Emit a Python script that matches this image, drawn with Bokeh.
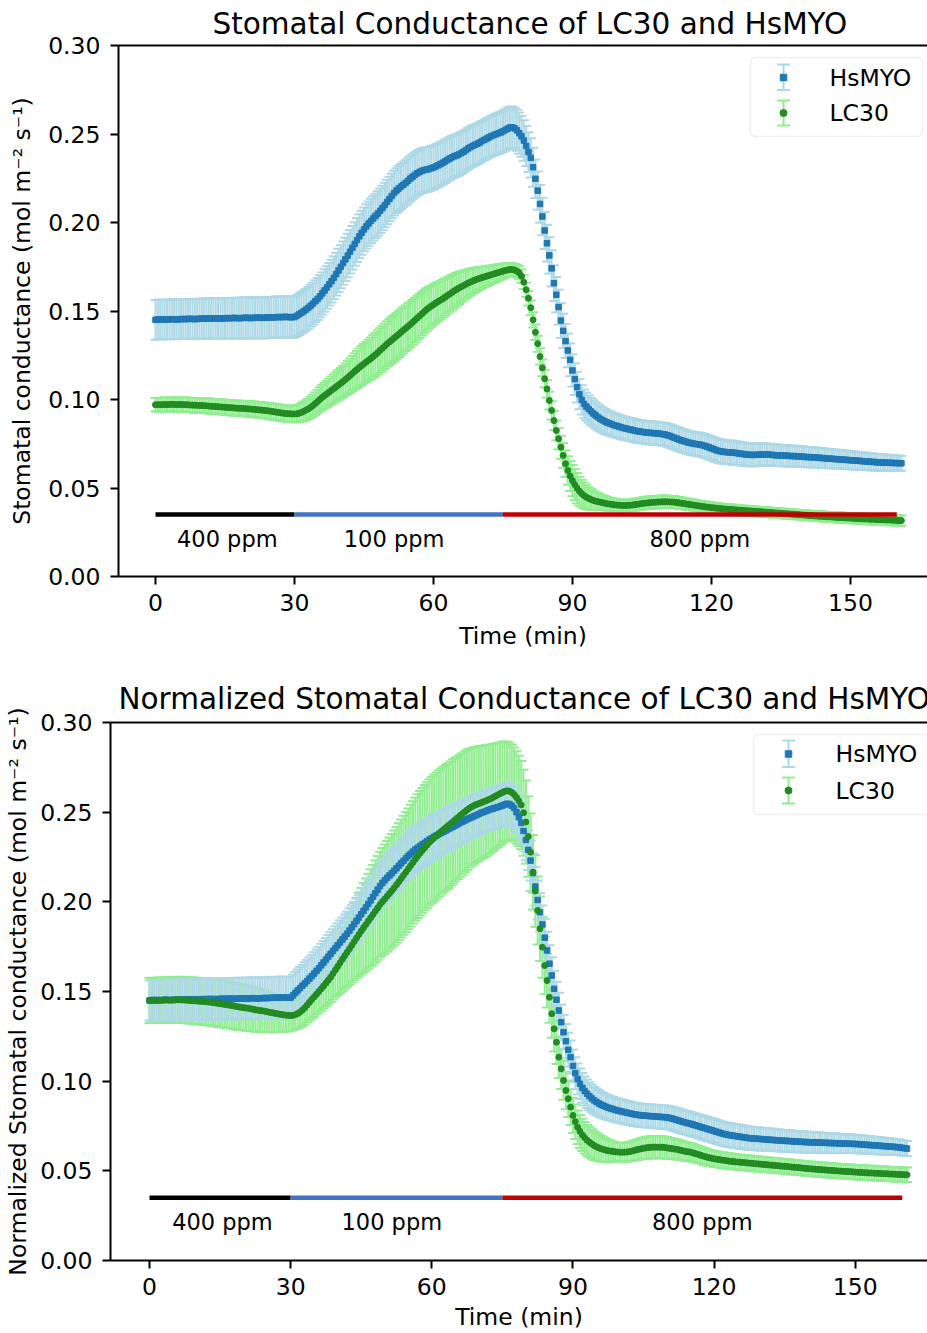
from bokeh.plotting import figure
from bokeh.layouts import column
from bokeh.models import (Range1d, FixedTicker, NumeralTickFormatter, LinearAxis,
                          Label, BoxAnnotation, ColumnDataSource)
from bokeh.core.properties import value
from bokeh.embed import file_html
from bokeh.resources import INLINE

FONT = "DejaVu Sans"

# ---------------- data (sampled every 0.5 min, 0 .. 161 min) ----------------
SAMPLE_STEP_MIN = 0.5

# HsMYO stomatal conductance (mol m-2 s-1), upper panel
hsmyo_gs = [
    0.1450, 0.1452, 0.1453, 0.1452, 0.1451, 0.1452, 0.1453, 0.1454, 0.1453, 0.1452,
    0.1453, 0.1454, 0.1455, 0.1454, 0.1455, 0.1456, 0.1455, 0.1454, 0.1455, 0.1456,
    0.1457, 0.1456, 0.1457, 0.1458, 0.1457, 0.1458, 0.1459, 0.1458, 0.1457, 0.1458,
    0.1459, 0.1460, 0.1459, 0.1460, 0.1461, 0.1460, 0.1459, 0.1460, 0.1461, 0.1462,
    0.1461, 0.1460, 0.1461, 0.1462, 0.1463, 0.1462, 0.1461, 0.1462, 0.1463, 0.1464,
    0.1463, 0.1464, 0.1465, 0.1466, 0.1465, 0.1466, 0.1467, 0.1466, 0.1465, 0.1465,
    0.1466, 0.1473, 0.1481, 0.1490, 0.1499, 0.1508, 0.1518, 0.1530, 0.1542, 0.1555,
    0.1568, 0.1583, 0.1599, 0.1616, 0.1633, 0.1651, 0.1669, 0.1688, 0.1708, 0.1729,
    0.1750, 0.1771, 0.1792, 0.1813, 0.1835, 0.1857, 0.1879, 0.1901, 0.1922, 0.1942,
    0.1961, 0.1978, 0.1994, 0.2009, 0.2023, 0.2037, 0.2051, 0.2066, 0.2082, 0.2099,
    0.2116, 0.2133, 0.2150, 0.2166, 0.2180, 0.2192, 0.2203, 0.2213, 0.2224, 0.2236,
    0.2248, 0.2259, 0.2269, 0.2278, 0.2286, 0.2292, 0.2296, 0.2299, 0.2302, 0.2306,
    0.2311, 0.2317, 0.2323, 0.2330, 0.2337, 0.2345, 0.2353, 0.2361, 0.2368, 0.2374,
    0.2379, 0.2385, 0.2392, 0.2400, 0.2409, 0.2418, 0.2426, 0.2433, 0.2439, 0.2445,
    0.2452, 0.2460, 0.2467, 0.2474, 0.2481, 0.2488, 0.2494, 0.2499, 0.2504, 0.2509,
    0.2515, 0.2522, 0.2530, 0.2537, 0.2538, 0.2532, 0.2521, 0.2505, 0.2487, 0.2463,
    0.2432, 0.2398, 0.2365, 0.2312, 0.2247, 0.2180, 0.2105, 0.2034, 0.1955, 0.1883,
    0.1814, 0.1741, 0.1657, 0.1592, 0.1522, 0.1446, 0.1388, 0.1330, 0.1277, 0.1224,
    0.1164, 0.1115, 0.1070, 0.1030, 0.0998, 0.0975, 0.0960, 0.0946, 0.0933, 0.0921,
    0.0910, 0.0900, 0.0891, 0.0883, 0.0876, 0.0870, 0.0865, 0.0860, 0.0855, 0.0851,
    0.0847, 0.0843, 0.0839, 0.0836, 0.0833, 0.0830, 0.0827, 0.0824, 0.0821, 0.0819,
    0.0817, 0.0815, 0.0813, 0.0812, 0.0811, 0.0810, 0.0809, 0.0808, 0.0806, 0.0804,
    0.0802, 0.0798, 0.0794, 0.0789, 0.0784, 0.0779, 0.0774, 0.0769, 0.0765, 0.0761,
    0.0757, 0.0754, 0.0751, 0.0749, 0.0747, 0.0745, 0.0742, 0.0738, 0.0734, 0.0729,
    0.0724, 0.0719, 0.0714, 0.0710, 0.0707, 0.0705, 0.0703, 0.0702, 0.0701, 0.0700,
    0.0699, 0.0697, 0.0695, 0.0693, 0.0691, 0.0689, 0.0688, 0.0687, 0.0687, 0.0687,
    0.0688, 0.0688, 0.0689, 0.0689, 0.0689, 0.0688, 0.0687, 0.0686, 0.0685, 0.0684,
    0.0684, 0.0683, 0.0683, 0.0682, 0.0681, 0.0680, 0.0680, 0.0679, 0.0678, 0.0677,
    0.0676, 0.0675, 0.0674, 0.0674, 0.0673, 0.0672, 0.0671, 0.0670, 0.0669, 0.0668,
    0.0667, 0.0666, 0.0665, 0.0664, 0.0663, 0.0662, 0.0661, 0.0660, 0.0659, 0.0658,
    0.0657, 0.0656, 0.0655, 0.0654, 0.0653, 0.0652, 0.0651, 0.0650, 0.0649, 0.0648,
    0.0647, 0.0646, 0.0645, 0.0645, 0.0644, 0.0643, 0.0643, 0.0642, 0.0642, 0.0641,
    0.0641, 0.0640, 0.0640,
]

# HsMYO standard error (used in both panels)
hsmyo_err = [
    0.0112, 0.0112, 0.0111, 0.0111, 0.0111, 0.0112, 0.0112, 0.0112, 0.0111, 0.0111,
    0.0111, 0.0112, 0.0112, 0.0112, 0.0112, 0.0112, 0.0113, 0.0113, 0.0113, 0.0113,
    0.0113, 0.0113, 0.0113, 0.0113, 0.0114, 0.0114, 0.0114, 0.0114, 0.0114, 0.0114,
    0.0114, 0.0114, 0.0114, 0.0114, 0.0114, 0.0115, 0.0115, 0.0115, 0.0115, 0.0115,
    0.0115, 0.0115, 0.0115, 0.0116, 0.0116, 0.0116, 0.0116, 0.0116, 0.0116, 0.0116,
    0.0116, 0.0116, 0.0116, 0.0116, 0.0116, 0.0116, 0.0116, 0.0116, 0.0116, 0.0116,
    0.0116, 0.0116, 0.0117, 0.0117, 0.0117, 0.0117, 0.0118, 0.0118, 0.0118, 0.0118,
    0.0119, 0.0119, 0.0119, 0.0120, 0.0120, 0.0120, 0.0121, 0.0121, 0.0121, 0.0122,
    0.0122, 0.0122, 0.0122, 0.0123, 0.0123, 0.0123, 0.0123, 0.0124, 0.0124, 0.0124,
    0.0124, 0.0125, 0.0125, 0.0125, 0.0125, 0.0125, 0.0126, 0.0126, 0.0126, 0.0126,
    0.0126, 0.0126, 0.0126, 0.0127, 0.0127, 0.0127, 0.0127, 0.0127, 0.0127, 0.0127,
    0.0127, 0.0127, 0.0127, 0.0126, 0.0126, 0.0126, 0.0126, 0.0125, 0.0125, 0.0125,
    0.0124, 0.0124, 0.0123, 0.0123, 0.0122, 0.0122, 0.0121, 0.0121, 0.0120, 0.0120,
    0.0119, 0.0119, 0.0118, 0.0118, 0.0117, 0.0117, 0.0116, 0.0116, 0.0115, 0.0115,
    0.0114, 0.0114, 0.0114, 0.0114, 0.0114, 0.0115, 0.0115, 0.0115, 0.0116, 0.0116,
    0.0116, 0.0117, 0.0117, 0.0117, 0.0117, 0.0117, 0.0116, 0.0116, 0.0115, 0.0114,
    0.0113, 0.0112, 0.0111, 0.0110, 0.0109, 0.0108, 0.0107, 0.0106, 0.0105, 0.0104,
    0.0103, 0.0102, 0.0101, 0.0100, 0.0099, 0.0098, 0.0097, 0.0096, 0.0095, 0.0093,
    0.0091, 0.0089, 0.0087, 0.0085, 0.0083, 0.0081, 0.0079, 0.0077, 0.0076, 0.0075,
    0.0074, 0.0073, 0.0072, 0.0071, 0.0070, 0.0069, 0.0068, 0.0068, 0.0067, 0.0067,
    0.0066, 0.0066, 0.0066, 0.0065, 0.0065, 0.0065, 0.0065, 0.0065, 0.0065, 0.0065,
    0.0065, 0.0065, 0.0065, 0.0065, 0.0065, 0.0065, 0.0065, 0.0065, 0.0065, 0.0065,
    0.0065, 0.0065, 0.0066, 0.0066, 0.0066, 0.0066, 0.0066, 0.0066, 0.0066, 0.0066,
    0.0066, 0.0066, 0.0066, 0.0066, 0.0067, 0.0067, 0.0067, 0.0067, 0.0067, 0.0067,
    0.0067, 0.0067, 0.0067, 0.0067, 0.0067, 0.0067, 0.0067, 0.0067, 0.0067, 0.0067,
    0.0067, 0.0066, 0.0066, 0.0066, 0.0065, 0.0065, 0.0065, 0.0064, 0.0064, 0.0064,
    0.0063, 0.0063, 0.0063, 0.0062, 0.0062, 0.0062, 0.0061, 0.0061, 0.0061, 0.0060,
    0.0060, 0.0060, 0.0060, 0.0059, 0.0059, 0.0059, 0.0059, 0.0058, 0.0058, 0.0058,
    0.0058, 0.0057, 0.0057, 0.0057, 0.0056, 0.0056, 0.0056, 0.0055, 0.0055, 0.0055,
    0.0054, 0.0054, 0.0054, 0.0053, 0.0053, 0.0053, 0.0052, 0.0052, 0.0052, 0.0051,
    0.0051, 0.0051, 0.0050, 0.0050, 0.0050, 0.0049, 0.0049, 0.0049, 0.0048, 0.0048,
    0.0048, 0.0047, 0.0047, 0.0046, 0.0046, 0.0045, 0.0045, 0.0044, 0.0044, 0.0043,
    0.0043, 0.0042, 0.0042,
]

# LC30 stomatal conductance, upper panel
lc30_gs = [
    0.0970, 0.0971, 0.0970, 0.0971, 0.0972, 0.0971, 0.0972, 0.0973, 0.0972, 0.0971,
    0.0972, 0.0972, 0.0971, 0.0970, 0.0970, 0.0969, 0.0968, 0.0968, 0.0967, 0.0966,
    0.0966, 0.0965, 0.0964, 0.0963, 0.0962, 0.0961, 0.0960, 0.0959, 0.0958, 0.0957,
    0.0956, 0.0955, 0.0954, 0.0953, 0.0952, 0.0951, 0.0950, 0.0950, 0.0949, 0.0948,
    0.0947, 0.0946, 0.0945, 0.0944, 0.0942, 0.0941, 0.0940, 0.0938, 0.0937, 0.0935,
    0.0933, 0.0931, 0.0929, 0.0927, 0.0925, 0.0923, 0.0921, 0.0920, 0.0919, 0.0918,
    0.0918, 0.0919, 0.0922, 0.0927, 0.0933, 0.0940, 0.0947, 0.0956, 0.0966, 0.0977,
    0.0989, 0.1001, 0.1012, 0.1022, 0.1032, 0.1042, 0.1052, 0.1062, 0.1072, 0.1082,
    0.1092, 0.1102, 0.1113, 0.1124, 0.1135, 0.1147, 0.1159, 0.1170, 0.1181, 0.1192,
    0.1202, 0.1212, 0.1222, 0.1232, 0.1243, 0.1254, 0.1266, 0.1278, 0.1290, 0.1302,
    0.1314, 0.1325, 0.1336, 0.1347, 0.1358, 0.1369, 0.1380, 0.1391, 0.1402, 0.1413,
    0.1424, 0.1436, 0.1448, 0.1460, 0.1472, 0.1484, 0.1496, 0.1508, 0.1518, 0.1527,
    0.1536, 0.1545, 0.1553, 0.1561, 0.1569, 0.1578, 0.1587, 0.1596, 0.1605, 0.1614,
    0.1622, 0.1630, 0.1637, 0.1644, 0.1651, 0.1658, 0.1664, 0.1670, 0.1675, 0.1680,
    0.1685, 0.1689, 0.1693, 0.1697, 0.1701, 0.1705, 0.1709, 0.1713, 0.1717, 0.1721,
    0.1725, 0.1729, 0.1732, 0.1734, 0.1734, 0.1731, 0.1725, 0.1716, 0.1697, 0.1663,
    0.1620, 0.1572, 0.1518, 0.1450, 0.1380, 0.1315, 0.1243, 0.1179, 0.1117, 0.1060,
    0.0994, 0.0938, 0.0881, 0.0825, 0.0778, 0.0730, 0.0684, 0.0637, 0.0599, 0.0568,
    0.0542, 0.0519, 0.0499, 0.0482, 0.0468, 0.0457, 0.0448, 0.0441, 0.0435, 0.0430,
    0.0426, 0.0423, 0.0420, 0.0417, 0.0414, 0.0411, 0.0409, 0.0407, 0.0405, 0.0404,
    0.0403, 0.0402, 0.0401, 0.0401, 0.0402, 0.0403, 0.0404, 0.0406, 0.0408, 0.0410,
    0.0412, 0.0414, 0.0415, 0.0417, 0.0418, 0.0419, 0.0420, 0.0421, 0.0421, 0.0422,
    0.0422, 0.0422, 0.0421, 0.0421, 0.0420, 0.0418, 0.0416, 0.0414, 0.0412, 0.0410,
    0.0408, 0.0406, 0.0404, 0.0402, 0.0400, 0.0398, 0.0396, 0.0394, 0.0392, 0.0391,
    0.0389, 0.0388, 0.0386, 0.0385, 0.0384, 0.0382, 0.0381, 0.0380, 0.0379, 0.0378,
    0.0377, 0.0376, 0.0375, 0.0374, 0.0373, 0.0372, 0.0371, 0.0370, 0.0369, 0.0368,
    0.0367, 0.0366, 0.0365, 0.0364, 0.0363, 0.0362, 0.0361, 0.0360, 0.0359, 0.0358,
    0.0357, 0.0356, 0.0355, 0.0354, 0.0353, 0.0352, 0.0351, 0.0350, 0.0349, 0.0348,
    0.0347, 0.0346, 0.0345, 0.0344, 0.0343, 0.0342, 0.0341, 0.0340, 0.0339, 0.0338,
    0.0337, 0.0337, 0.0336, 0.0335, 0.0334, 0.0333, 0.0333, 0.0332, 0.0331, 0.0330,
    0.0330, 0.0329, 0.0328, 0.0327, 0.0327, 0.0326, 0.0325, 0.0325, 0.0324, 0.0323,
    0.0323, 0.0322, 0.0321, 0.0321, 0.0320, 0.0320, 0.0319, 0.0319, 0.0318, 0.0318,
    0.0317, 0.0316, 0.0316,
]

lc30_err = [
    0.0038, 0.0038, 0.0039, 0.0039, 0.0039, 0.0039, 0.0039, 0.0039, 0.0040, 0.0040,
    0.0040, 0.0040, 0.0040, 0.0040, 0.0040, 0.0041, 0.0041, 0.0041, 0.0041, 0.0041,
    0.0041, 0.0041, 0.0041, 0.0042, 0.0042, 0.0042, 0.0042, 0.0042, 0.0042, 0.0042,
    0.0042, 0.0042, 0.0043, 0.0043, 0.0043, 0.0043, 0.0043, 0.0043, 0.0043, 0.0043,
    0.0043, 0.0044, 0.0044, 0.0044, 0.0044, 0.0044, 0.0044, 0.0044, 0.0044, 0.0045,
    0.0045, 0.0045, 0.0045, 0.0045, 0.0045, 0.0045, 0.0045, 0.0045, 0.0046, 0.0046,
    0.0046, 0.0048, 0.0050, 0.0052, 0.0054, 0.0056, 0.0058, 0.0060, 0.0062, 0.0064,
    0.0066, 0.0068, 0.0070, 0.0072, 0.0074, 0.0076, 0.0078, 0.0080, 0.0082, 0.0084,
    0.0086, 0.0088, 0.0090, 0.0093, 0.0096, 0.0099, 0.0102, 0.0105, 0.0108, 0.0110,
    0.0112, 0.0114, 0.0116, 0.0118, 0.0120, 0.0122, 0.0124, 0.0125, 0.0126, 0.0127,
    0.0128, 0.0129, 0.0130, 0.0130, 0.0130, 0.0130, 0.0130, 0.0130, 0.0129, 0.0129,
    0.0128, 0.0127, 0.0126, 0.0125, 0.0124, 0.0123, 0.0122, 0.0120, 0.0118, 0.0116,
    0.0114, 0.0112, 0.0110, 0.0108, 0.0106, 0.0104, 0.0102, 0.0100, 0.0098, 0.0096,
    0.0093, 0.0090, 0.0087, 0.0084, 0.0081, 0.0078, 0.0075, 0.0072, 0.0069, 0.0066,
    0.0063, 0.0060, 0.0058, 0.0056, 0.0054, 0.0052, 0.0050, 0.0048, 0.0046, 0.0044,
    0.0042, 0.0040, 0.0038, 0.0036, 0.0035, 0.0035, 0.0036, 0.0037, 0.0038, 0.0039,
    0.0040, 0.0041, 0.0042, 0.0043, 0.0044, 0.0045, 0.0046, 0.0047, 0.0048, 0.0049,
    0.0050, 0.0052, 0.0054, 0.0056, 0.0060, 0.0065, 0.0070, 0.0075, 0.0080, 0.0085,
    0.0088, 0.0088, 0.0086, 0.0082, 0.0078, 0.0073, 0.0068, 0.0063, 0.0058, 0.0054,
    0.0050, 0.0047, 0.0044, 0.0042, 0.0040, 0.0038, 0.0036, 0.0035, 0.0034, 0.0033,
    0.0032, 0.0032, 0.0032, 0.0032, 0.0032, 0.0032, 0.0033, 0.0033, 0.0033, 0.0034,
    0.0034, 0.0034, 0.0035, 0.0035, 0.0035, 0.0035, 0.0035, 0.0035, 0.0035, 0.0035,
    0.0035, 0.0035, 0.0034, 0.0034, 0.0034, 0.0033, 0.0033, 0.0033, 0.0032, 0.0032,
    0.0032, 0.0031, 0.0031, 0.0031, 0.0030, 0.0030, 0.0030, 0.0030, 0.0029, 0.0029,
    0.0029, 0.0029, 0.0029, 0.0029, 0.0028, 0.0028, 0.0028, 0.0028, 0.0028, 0.0028,
    0.0028, 0.0028, 0.0028, 0.0027, 0.0027, 0.0027, 0.0027, 0.0027, 0.0027, 0.0027,
    0.0027, 0.0027, 0.0027, 0.0027, 0.0027, 0.0027, 0.0027, 0.0027, 0.0027, 0.0027,
    0.0027, 0.0027, 0.0027, 0.0027, 0.0027, 0.0027, 0.0027, 0.0027, 0.0027, 0.0027,
    0.0027, 0.0027, 0.0027, 0.0027, 0.0027, 0.0027, 0.0027, 0.0027, 0.0028, 0.0028,
    0.0028, 0.0028, 0.0028, 0.0028, 0.0028, 0.0028, 0.0028, 0.0028, 0.0028, 0.0028,
    0.0028, 0.0028, 0.0028, 0.0028, 0.0028, 0.0029, 0.0029, 0.0029, 0.0029, 0.0029,
    0.0029, 0.0029, 0.0029, 0.0029, 0.0029, 0.0029, 0.0029, 0.0029, 0.0029, 0.0029,
    0.0029, 0.0029, 0.0029,
]

# Normalized panel: HsMYO
hsmyo_norm = [
    0.1450, 0.1452, 0.1453, 0.1452, 0.1451, 0.1452, 0.1453, 0.1454, 0.1453, 0.1452,
    0.1453, 0.1454, 0.1455, 0.1454, 0.1455, 0.1456, 0.1455, 0.1454, 0.1455, 0.1456,
    0.1457, 0.1456, 0.1457, 0.1458, 0.1457, 0.1458, 0.1459, 0.1458, 0.1457, 0.1458,
    0.1459, 0.1460, 0.1459, 0.1460, 0.1461, 0.1460, 0.1459, 0.1460, 0.1461, 0.1462,
    0.1461, 0.1460, 0.1461, 0.1462, 0.1463, 0.1462, 0.1461, 0.1462, 0.1463, 0.1464,
    0.1463, 0.1464, 0.1465, 0.1466, 0.1465, 0.1466, 0.1467, 0.1466, 0.1465, 0.1465,
    0.1466, 0.1478, 0.1492, 0.1506, 0.1519, 0.1532, 0.1545, 0.1558, 0.1572, 0.1586,
    0.1600, 0.1615, 0.1630, 0.1646, 0.1662, 0.1678, 0.1694, 0.1710, 0.1726, 0.1742,
    0.1758, 0.1774, 0.1790, 0.1806, 0.1822, 0.1840, 0.1858, 0.1876, 0.1894, 0.1912,
    0.1931, 0.1950, 0.1969, 0.1988, 0.2008, 0.2028, 0.2048, 0.2068, 0.2088, 0.2105,
    0.2120, 0.2134, 0.2147, 0.2160, 0.2173, 0.2187, 0.2201, 0.2215, 0.2229, 0.2243,
    0.2256, 0.2268, 0.2280, 0.2291, 0.2301, 0.2311, 0.2320, 0.2329, 0.2338, 0.2347,
    0.2355, 0.2363, 0.2370, 0.2377, 0.2384, 0.2391, 0.2398, 0.2405, 0.2412, 0.2419,
    0.2426, 0.2433, 0.2440, 0.2447, 0.2454, 0.2460, 0.2466, 0.2472, 0.2478, 0.2484,
    0.2490, 0.2496, 0.2501, 0.2506, 0.2511, 0.2516, 0.2520, 0.2524, 0.2528, 0.2532,
    0.2537, 0.2542, 0.2547, 0.2545, 0.2536, 0.2523, 0.2500, 0.2472, 0.2440, 0.2395,
    0.2345, 0.2290, 0.2230, 0.2160, 0.2085, 0.2010, 0.1942, 0.1874, 0.1800, 0.1729,
    0.1655, 0.1589, 0.1515, 0.1454, 0.1394, 0.1329, 0.1273, 0.1223, 0.1175, 0.1134,
    0.1085, 0.1045, 0.1012, 0.0985, 0.0963, 0.0945, 0.0930, 0.0916, 0.0904, 0.0893,
    0.0884, 0.0876, 0.0869, 0.0863, 0.0857, 0.0852, 0.0848, 0.0844, 0.0840, 0.0836,
    0.0833, 0.0830, 0.0827, 0.0824, 0.0821, 0.0818, 0.0815, 0.0813, 0.0811, 0.0809,
    0.0808, 0.0807, 0.0806, 0.0805, 0.0804, 0.0803, 0.0802, 0.0801, 0.0800, 0.0799,
    0.0798, 0.0795, 0.0792, 0.0788, 0.0784, 0.0780, 0.0776, 0.0772, 0.0768, 0.0765,
    0.0762, 0.0758, 0.0754, 0.0750, 0.0746, 0.0742, 0.0738, 0.0734, 0.0730, 0.0726,
    0.0722, 0.0718, 0.0714, 0.0710, 0.0706, 0.0703, 0.0700, 0.0698, 0.0696, 0.0694,
    0.0692, 0.0690, 0.0688, 0.0686, 0.0684, 0.0682, 0.0681, 0.0680, 0.0679, 0.0678,
    0.0677, 0.0676, 0.0675, 0.0674, 0.0673, 0.0672, 0.0671, 0.0670, 0.0669, 0.0668,
    0.0667, 0.0667, 0.0666, 0.0665, 0.0664, 0.0663, 0.0662, 0.0662, 0.0661, 0.0660,
    0.0660, 0.0659, 0.0659, 0.0658, 0.0658, 0.0657, 0.0657, 0.0656, 0.0656, 0.0655,
    0.0655, 0.0654, 0.0654, 0.0653, 0.0653, 0.0652, 0.0652, 0.0651, 0.0651, 0.0650,
    0.0650, 0.0649, 0.0648, 0.0647, 0.0646, 0.0645, 0.0644, 0.0643, 0.0642, 0.0641,
    0.0640, 0.0639, 0.0638, 0.0637, 0.0636, 0.0635, 0.0634, 0.0633, 0.0632, 0.0630,
    0.0628, 0.0626, 0.0624,
]

# Normalized panel: LC30
lc30_norm = [
    0.1450, 0.1451, 0.1450, 0.1451, 0.1452, 0.1451, 0.1452, 0.1453, 0.1452, 0.1452,
    0.1453, 0.1453, 0.1454, 0.1454, 0.1453, 0.1452, 0.1451, 0.1450, 0.1449, 0.1448,
    0.1447, 0.1446, 0.1445, 0.1444, 0.1443, 0.1441, 0.1440, 0.1438, 0.1436, 0.1434,
    0.1432, 0.1430, 0.1428, 0.1426, 0.1424, 0.1422, 0.1419, 0.1416, 0.1414, 0.1412,
    0.1410, 0.1408, 0.1406, 0.1404, 0.1401, 0.1398, 0.1396, 0.1394, 0.1392, 0.1390,
    0.1387, 0.1384, 0.1382, 0.1379, 0.1377, 0.1374, 0.1372, 0.1370, 0.1368, 0.1367,
    0.1366, 0.1367, 0.1371, 0.1377, 0.1385, 0.1396, 0.1409, 0.1424, 0.1440, 0.1456,
    0.1470, 0.1485, 0.1500, 0.1515, 0.1531, 0.1547, 0.1563, 0.1580, 0.1600, 0.1620,
    0.1640, 0.1660, 0.1680, 0.1700, 0.1719, 0.1738, 0.1758, 0.1778, 0.1798, 0.1818,
    0.1837, 0.1856, 0.1874, 0.1893, 0.1911, 0.1929, 0.1948, 0.1966, 0.1985, 0.2001,
    0.2016, 0.2031, 0.2046, 0.2062, 0.2078, 0.2095, 0.2112, 0.2130, 0.2148, 0.2166,
    0.2184, 0.2202, 0.2220, 0.2238, 0.2255, 0.2271, 0.2287, 0.2302, 0.2317, 0.2332,
    0.2345, 0.2357, 0.2369, 0.2381, 0.2392, 0.2403, 0.2414, 0.2425, 0.2436, 0.2447,
    0.2458, 0.2469, 0.2480, 0.2491, 0.2502, 0.2512, 0.2522, 0.2530, 0.2537, 0.2543,
    0.2548, 0.2553, 0.2558, 0.2563, 0.2569, 0.2575, 0.2582, 0.2589, 0.2596, 0.2603,
    0.2610, 0.2616, 0.2619, 0.2617, 0.2610, 0.2598, 0.2582, 0.2563, 0.2540, 0.2497,
    0.2445, 0.2364, 0.2277, 0.2165, 0.2060, 0.1952, 0.1850, 0.1747, 0.1645, 0.1561,
    0.1468, 0.1376, 0.1292, 0.1217, 0.1134, 0.1069, 0.1004, 0.0948, 0.0902, 0.0855,
    0.0809, 0.0774, 0.0743, 0.0720, 0.0700, 0.0684, 0.0671, 0.0660, 0.0650, 0.0641,
    0.0634, 0.0628, 0.0623, 0.0619, 0.0615, 0.0612, 0.0610, 0.0608, 0.0606, 0.0605,
    0.0604, 0.0604, 0.0604, 0.0605, 0.0607, 0.0610, 0.0613, 0.0617, 0.0620, 0.0623,
    0.0626, 0.0628, 0.0630, 0.0631, 0.0632, 0.0632, 0.0632, 0.0632, 0.0631, 0.0630,
    0.0628, 0.0626, 0.0624, 0.0622, 0.0620, 0.0617, 0.0614, 0.0611, 0.0608, 0.0606,
    0.0604, 0.0600, 0.0596, 0.0592, 0.0588, 0.0584, 0.0580, 0.0576, 0.0573, 0.0570,
    0.0567, 0.0565, 0.0563, 0.0561, 0.0559, 0.0557, 0.0555, 0.0553, 0.0552, 0.0550,
    0.0549, 0.0548, 0.0547, 0.0546, 0.0544, 0.0543, 0.0542, 0.0540, 0.0539, 0.0538,
    0.0537, 0.0536, 0.0535, 0.0533, 0.0532, 0.0531, 0.0530, 0.0529, 0.0527, 0.0526,
    0.0525, 0.0524, 0.0523, 0.0521, 0.0520, 0.0519, 0.0518, 0.0516, 0.0515, 0.0513,
    0.0512, 0.0511, 0.0510, 0.0509, 0.0508, 0.0507, 0.0506, 0.0505, 0.0504, 0.0503,
    0.0502, 0.0501, 0.0500, 0.0499, 0.0498, 0.0497, 0.0496, 0.0496, 0.0495, 0.0494,
    0.0493, 0.0492, 0.0491, 0.0491, 0.0490, 0.0489, 0.0488, 0.0488, 0.0487, 0.0486,
    0.0486, 0.0485, 0.0484, 0.0484, 0.0483, 0.0482, 0.0482, 0.0481, 0.0480, 0.0480,
    0.0479, 0.0478, 0.0478,
]

lc30_norm_err = [
    0.0125, 0.0125, 0.0125, 0.0126, 0.0126, 0.0126, 0.0126, 0.0126, 0.0127, 0.0127,
    0.0127, 0.0127, 0.0127, 0.0128, 0.0128, 0.0128, 0.0128, 0.0128, 0.0129, 0.0129,
    0.0129, 0.0129, 0.0129, 0.0129, 0.0130, 0.0130, 0.0130, 0.0130, 0.0130, 0.0130,
    0.0130, 0.0130, 0.0130, 0.0130, 0.0129, 0.0129, 0.0129, 0.0128, 0.0128, 0.0127,
    0.0127, 0.0126, 0.0125, 0.0124, 0.0123, 0.0122, 0.0120, 0.0119, 0.0117, 0.0115,
    0.0113, 0.0111, 0.0109, 0.0106, 0.0103, 0.0100, 0.0097, 0.0094, 0.0091, 0.0088,
    0.0085, 0.0082, 0.0080, 0.0082, 0.0085, 0.0088, 0.0092, 0.0096, 0.0100, 0.0104,
    0.0108, 0.0112, 0.0116, 0.0120, 0.0124, 0.0128, 0.0132, 0.0138, 0.0145, 0.0152,
    0.0160, 0.0168, 0.0176, 0.0184, 0.0192, 0.0200, 0.0208, 0.0216, 0.0224, 0.0232,
    0.0240, 0.0248, 0.0256, 0.0263, 0.0270, 0.0277, 0.0283, 0.0289, 0.0294, 0.0299,
    0.0304, 0.0308, 0.0312, 0.0316, 0.0320, 0.0323, 0.0326, 0.0329, 0.0332, 0.0335,
    0.0337, 0.0339, 0.0341, 0.0343, 0.0345, 0.0347, 0.0348, 0.0349, 0.0350, 0.0351,
    0.0352, 0.0352, 0.0352, 0.0352, 0.0351, 0.0350, 0.0349, 0.0348, 0.0347, 0.0346,
    0.0344, 0.0342, 0.0340, 0.0338, 0.0336, 0.0334, 0.0331, 0.0328, 0.0325, 0.0322,
    0.0319, 0.0316, 0.0313, 0.0310, 0.0306, 0.0302, 0.0298, 0.0294, 0.0290, 0.0286,
    0.0282, 0.0278, 0.0274, 0.0270, 0.0266, 0.0262, 0.0258, 0.0252, 0.0246, 0.0240,
    0.0232, 0.0224, 0.0216, 0.0208, 0.0200, 0.0190, 0.0180, 0.0170, 0.0160, 0.0150,
    0.0142, 0.0134, 0.0127, 0.0121, 0.0116, 0.0112, 0.0108, 0.0105, 0.0102, 0.0100,
    0.0098, 0.0096, 0.0094, 0.0092, 0.0090, 0.0088, 0.0086, 0.0084, 0.0082, 0.0080,
    0.0077, 0.0074, 0.0071, 0.0068, 0.0065, 0.0062, 0.0059, 0.0056, 0.0054, 0.0052,
    0.0051, 0.0051, 0.0052, 0.0053, 0.0054, 0.0055, 0.0056, 0.0057, 0.0058, 0.0059,
    0.0060, 0.0061, 0.0061, 0.0062, 0.0062, 0.0062, 0.0062, 0.0062, 0.0061, 0.0061,
    0.0060, 0.0059, 0.0058, 0.0057, 0.0056, 0.0055, 0.0054, 0.0053, 0.0052, 0.0051,
    0.0050, 0.0049, 0.0048, 0.0048, 0.0047, 0.0047, 0.0046, 0.0046, 0.0045, 0.0045,
    0.0045, 0.0044, 0.0044, 0.0044, 0.0044, 0.0043, 0.0043, 0.0043, 0.0043, 0.0043,
    0.0042, 0.0042, 0.0042, 0.0042, 0.0042, 0.0042, 0.0042, 0.0042, 0.0042, 0.0042,
    0.0041, 0.0041, 0.0041, 0.0041, 0.0041, 0.0041, 0.0041, 0.0041, 0.0041, 0.0041,
    0.0041, 0.0041, 0.0041, 0.0041, 0.0041, 0.0040, 0.0040, 0.0040, 0.0040, 0.0040,
    0.0040, 0.0040, 0.0040, 0.0040, 0.0040, 0.0040, 0.0040, 0.0040, 0.0040, 0.0040,
    0.0040, 0.0040, 0.0040, 0.0040, 0.0040, 0.0040, 0.0040, 0.0040, 0.0040, 0.0040,
    0.0040, 0.0040, 0.0040, 0.0040, 0.0040, 0.0040, 0.0040, 0.0040, 0.0040, 0.0040,
    0.0040, 0.0040, 0.0040, 0.0040, 0.0040, 0.0040, 0.0040, 0.0040, 0.0040, 0.0040,
    0.0040, 0.0040, 0.0040,
]

# CO2 phases
phase_start = [0, 30, 75]
phase_end = [30, 75, 160]
phase_colors = ["#000000", "#4472C4", "#C00000"]
phase_labels = ["400 ppm", "100 ppm", "800 ppm"]
phase_label_x = [15.5, 51.5, 117.5]
phase_bar_level = 0.035
phase_label_level = 0.0214

series_names = ["HsMYO", "LC30"]
x_ticks = [0, 30, 60, 90, 120, 150]
y_ticks = [0.00, 0.05, 0.10, 0.15, 0.20, 0.25, 0.30]

for arr in (hsmyo_gs, hsmyo_err, lc30_gs, lc30_err, hsmyo_norm, lc30_norm, lc30_norm_err):
    assert len(arr) == 323, len(arr)

time_min = [i * SAMPLE_STEP_MIN for i in range(len(hsmyo_gs))]

HS_COLOR, HS_LIGHT = "#1f77b4", "#add8e6"
LC_COLOR, LC_LIGHT = "#228b22", "#90ee90"
FIG_W = 927


def build(title, ylabel, hs, hs_e, lc, lc_e, g):
    ppm = g["ppm"]
    x0 = g["x0"]
    xr = Range1d((g["fl"] - x0) / ppm, (FIG_W - x0) / ppm)
    p = figure(width=FIG_W, height=g["h"], x_range=xr, y_range=Range1d(0, 0.30),
               output_backend="svg", toolbar_location=None,
               min_border_left=g["bl"], min_border_right=0,
               min_border_top=g["bt"], min_border_bottom=g["bb"])
    p.frame_align = False
    p.outline_line_color = None
    p.xgrid.visible = False
    p.ygrid.visible = False
    p.background_fill_color = "white"
    p.border_fill_color = "white"

    def dx(px):
        return (px - x0) / ppm

    def dy(py):
        return (g["fb"] - py) / (g["fb"] - g["ft"]) * 0.30

    # error bars (LC30 first, then HsMYO), then markers
    srcs = {}
    for name, m, e in (("hs", hs, hs_e), ("lc", lc, lc_e)):
        srcs[name] = ColumnDataSource(dict(t=time_min, m=m,
                                           lo=[a - b for a, b in zip(m, e)],
                                           hi=[a + b for a, b in zip(m, e)]))
    for name, light in (("lc", LC_LIGHT), ("hs", HS_LIGHT)):
        s = srcs[name]
        p.segment(x0="t", y0="lo", x1="t", y1="hi", source=s, line_color=light, line_width=2)
        p.scatter(x="t", y="lo", source=s, marker="dash", size=10, line_color=light, line_width=2)
        p.scatter(x="t", y="hi", source=s, marker="dash", size=10, line_color=light, line_width=2)
    p.scatter(x="t", y="m", source=srcs["hs"], marker="square", size=5.5,
              fill_color=HS_COLOR, line_color=HS_COLOR, line_width=1)
    p.scatter(x="t", y="m", source=srcs["lc"], marker="circle", size=6,
              fill_color=LC_COLOR, line_color=LC_COLOR, line_width=1)

    # CO2 phase bars and labels
    p.segment(x0=phase_start, y0=[phase_bar_level] * 3, x1=phase_end, y1=[phase_bar_level] * 3,
              line_color=phase_colors, line_width=4.6, line_cap="butt")
    p.text(x=phase_label_x, y=[phase_label_level] * 3, text=phase_labels,
           text_align="center", text_baseline="middle", text_color="black",
           text_font=value(FONT), text_font_size="22.5px")

    # axes
    p.xaxis.ticker = FixedTicker(ticks=x_ticks)
    p.yaxis.ticker = FixedTicker(ticks=y_ticks)
    p.yaxis.formatter = NumeralTickFormatter(format="0.00")
    p.xaxis.axis_label = "Time (min)"
    p.yaxis.axis_label = ylabel
    for ax in (p.xaxis[0], p.yaxis[0]):
        ax.axis_line_width = 2
        ax.axis_line_color = "black"
        ax.major_tick_line_width = 2
        ax.major_tick_line_color = "black"
        ax.major_tick_out = 8
        ax.major_tick_in = 0
        ax.minor_tick_line_color = None
        ax.major_label_text_font = FONT
        ax.major_label_text_font_size = "23.5px"
        ax.major_label_text_color = "black"
        ax.axis_label_text_font = FONT
        ax.axis_label_text_font_size = "23.5px"
        ax.axis_label_text_font_style = "normal"
        ax.axis_label_text_color = "black"
    p.xaxis.major_label_standoff = 9
    p.xaxis.axis_label_standoff = g["xl_so"]
    p.yaxis.major_label_standoff = 10
    p.yaxis.axis_label_standoff = g["yl_so"]
    top = LinearAxis(ticker=FixedTicker(ticks=[]), axis_line_width=2, axis_line_color="black",
                     major_tick_line_color=None, minor_tick_line_color=None,
                     major_tick_out=0, major_tick_in=0, major_label_standoff=0,
                     axis_label_standoff=0, major_label_text_font_size="0px")
    p.add_layout(top, "above")

    # title
    p.title.text = title
    p.title.align = "left"
    p.title.offset = g["title_off"]
    p.title.text_font = FONT
    p.title.text_font_size = "29.5px"
    p.title.text_font_style = "normal"
    p.title.text_color = "black"
    p.title.standoff = g["title_so"]

    # legend
    lg = g["legend"]
    p.add_layout(BoxAnnotation(left=dx(lg["l"]), right=dx(lg["r"]), top=dy(lg["t"]),
                               bottom=dy(lg["b"]), fill_color="white", fill_alpha=0.8,
                               line_color="#cccccc", line_width=1.5, border_radius=5,
                               level="underlay"))
    bx = dx(lg["bx"])
    for name, row, light, col, mk, sz in ((series_names[0], lg["rows"][0], HS_LIGHT, HS_COLOR, "square", 6.5),
                                          (series_names[1], lg["rows"][1], LC_LIGHT, LC_COLOR, "circle", 7)):
        ym, yt, yb = row
        p.segment(x0=[bx], y0=[dy(yt)], x1=[bx], y1=[dy(yb)], line_color=light, line_width=2)
        p.scatter(x=[bx, bx], y=[dy(yt), dy(yb)], marker="dash", size=13,
                  line_color=light, line_width=2)
        p.scatter(x=[bx], y=[dy(ym)], marker=mk, size=sz, fill_color=col, line_color=col)
        p.add_layout(Label(x=dx(lg["tx"]), y=dy(ym), text=name, text_font=FONT,
                           text_font_size="23.5px", text_color="black",
                           text_baseline="middle", text_align="left"))
    return p


top_geom = dict(h=660, bt=45, bb=84, bl=118, ppm=4.633, x0=155, fl=118, ft=45, fb=576,
                title_off=94, title_so=9, xl_so=8, yl_so=9,
                legend=dict(l=750, r=922, t=57, b=136, bx=783, tx=829,
                            rows=[(77, 64, 89.5), (112.5, 100, 125)]))
bot_geom = dict(h=673, bt=62, bb=73, bl=110, ppm=4.705, x0=149, fl=110, ft=722, fb=1260,
                title_off=8, title_so=14, xl_so=5, yl_so=5,
                legend=dict(l=753, r=945, t=734, b=814, bx=788, tx=835,
                            rows=[(753.5, 740, 766.5), (790, 777, 803)]))

p1 = build("Stomatal Conductance of LC30 and HsMYO",
           "Stomatal conductance (mol m\u207b\u00b2 s\u207b\u00b9)",
           hsmyo_gs, hsmyo_err, lc30_gs, lc30_err, top_geom)
p2 = build("Normalized Stomatal Conductance of LC30 and HsMYO",
           "Normalized Stomatal conductance (mol m\u207b\u00b2 s\u207b\u00b9)",
           hsmyo_norm, hsmyo_err, lc30_norm, lc30_norm_err, bot_geom)

layout = column(p1, p2, spacing=0)
with open("out.html", "w") as f:
    f.write(file_html(layout, INLINE))
